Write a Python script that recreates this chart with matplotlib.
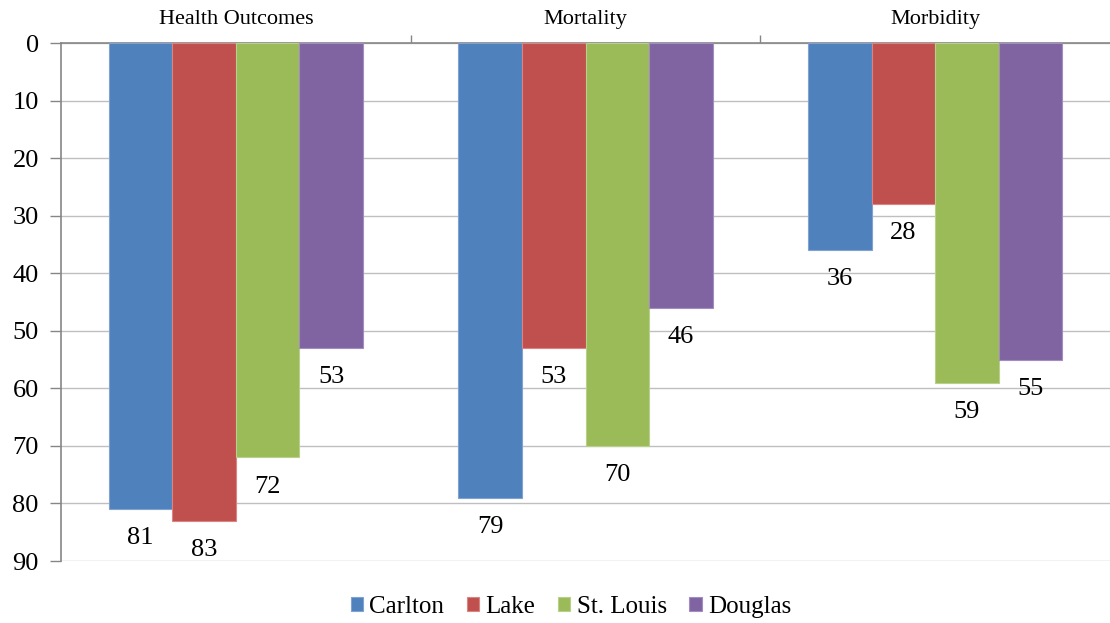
import matplotlib
matplotlib.use("Agg")
import matplotlib.pyplot as plt
import numpy as np

categories = ["Health Outcomes", "Mortality", "Morbidity"]
series_names = ["Carlton", "Lake", "St. Louis", "Douglas"]
carlton = [81, 79, 36]
lake = [83, 53, 28]
st_louis = [72, 70, 59]
douglas = [53, 46, 55]
yticks = [0, 10, 20, 30, 40, 50, 60, 70, 80, 90]

values = [carlton, lake, st_louis, douglas]
colors = ["#4F81BD", "#C0504D", "#9BBB59", "#8064A2"]
edges = ["#7FA2D0", "#D98583", "#B8D08A", "#A28DC0"]

plt.rcParams['font.family'] = ['Liberation Serif', 'DejaVu Serif']

fig = plt.figure(figsize=(11.1, 6.23), dpi=100)
ax = fig.add_axes([61/1110, 1-561/623, 1049/1110, (561-43)/623])

x = np.arange(len(categories))
w = 0.182
for i, (name, vals, c, ec) in enumerate(zip(series_names, values, colors, edges)):
    pos = x + (i - 1.5) * w
    ax.bar(pos, vals, width=w, color=c, edgecolor=ec, linewidth=0.8,
           label=name, zorder=3)
    for xp, v in zip(pos, vals):
        ax.annotate(str(v), (xp, v), xytext=(0, -21), textcoords="offset points",
                    ha="center", va="center", fontsize=19, zorder=4)

ax.set_ylim(90, 0)
ax.set_xlim(-0.5, 2.5)
ax.set_yticks(yticks)
ax.yaxis.grid(True, color="#BFBFBF", linewidth=1.0, zorder=0)
ax.set_axisbelow(True)

ax.xaxis.tick_top()
ax.set_xticks([0.5, 1.5])
ax.set_xticklabels([])
ax.set_xticks(x, minor=True)
ax.set_xticklabels(categories, minor=True, fontsize=16)
ax.tick_params(axis="x", which="minor", length=0, pad=10)
ax.tick_params(axis="x", which="major", length=6, color="#868686", width=1)
ax.tick_params(axis="y", length=8, color="#868686", width=1, labelsize=19, pad=8)

for s in ["right", "bottom"]:
    ax.spines[s].set_visible(False)
for s in ["left", "top"]:
    ax.spines[s].set_color("#868686")
    ax.spines[s].set_linewidth(1.2)

fig.legend(loc="center", bbox_to_anchor=(571/1110, 1 - 607/623), ncol=4, frameon=False,
           fontsize=18, handlelength=0.5, handleheight=0.5, handletextpad=0.25,
           columnspacing=0.9)

fig.savefig("out.png", dpi=100)
